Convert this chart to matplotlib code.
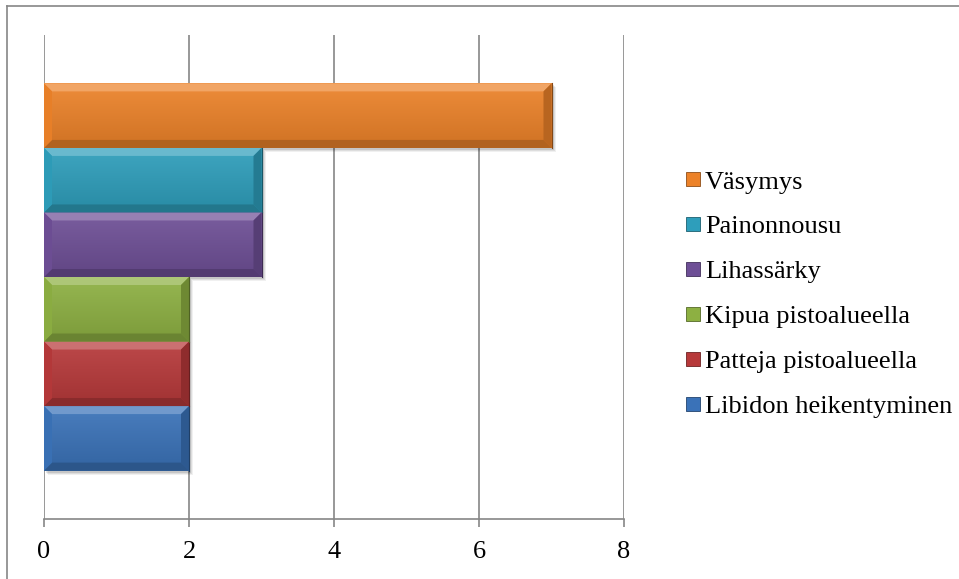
import matplotlib
matplotlib.use("Agg")
import matplotlib.pyplot as plt
import numpy as np
from matplotlib.lines import Line2D
from matplotlib.colors import to_rgb

plt.rcParams['font.family'] = ['Liberation Serif', 'DejaVu Serif']

# data (bottom to top)
labels = ["Libidon heikentyminen", "Patteja pistoalueella", "Kipua pistoalueella",
          "Lihassärky", "Painonnousu", "Väsymys"]
values = [2, 2, 2, 3, 3, 7]
colors = ["#3A72B8", "#B7393A", "#8DB042", "#6E4F96", "#2E9EBB", "#EC8229"]
xticks = [0, 2, 4, 6, 8]

W, H = 959, 579
fig = plt.figure(figsize=(W / 100, H / 100), dpi=100)
ax = fig.add_axes([44 / W, 60 / H, 580 / W, 484 / H])

gap = 0.75
ax.set_xlim(0, 8)
ax.set_ylim(0, len(values) + 2 * gap)

# pixel sizes in data units
px_x = 8 / 580
px_y = (len(values) + 2 * gap) / 484
bev_x = 8 * px_x
bev_y = 8 * px_y


def shade(c, f):
    c = np.array(to_rgb(c))
    if f >= 0:
        return tuple(c + (1 - c) * f)
    return tuple(c * (1 + f))


for i, (v, c) in enumerate(zip(values, colors)):
    y0 = gap + i
    y1 = y0 + 1
    # soft shadow
    for k, a in zip([4, 3, 2], [0.06, 0.08, 0.10]):
        ax.fill([v, v + k * px_x, v + k * px_x, 0 + k * px_x, 0 + k * px_x, v],
                [y1 - k * px_y, y1 - k * px_y, y0 - k * px_y, y0 - k * px_y, y0, y0],
                color="black", alpha=a, lw=0, zorder=2)
    # vertical gradient body
    t = np.linspace(0, 1, 64)[:, None]
    top = np.array(shade(c, 0.08))
    bot = np.array(shade(c, -0.12))
    grad = (bot[None, :] * (1 - t) + top[None, :] * t)[:, None, :]
    ax.imshow(grad, extent=(0, v, y0, y1), origin="lower", aspect="auto",
              interpolation="bilinear", zorder=3)
    # bevel faces
    ax.fill([0, v, v - bev_x, bev_x], [y1, y1, y1 - bev_y, y1 - bev_y],
            color=shade(c, 0.28), lw=0, zorder=4)
    ax.fill([0, v, v - bev_x, bev_x], [y0, y0, y0 + bev_y, y0 + bev_y],
            color=shade(c, -0.25), lw=0, zorder=4)
    ax.fill([0, bev_x, bev_x, 0], [y0, y0 + bev_y, y1 - bev_y, y1],
            color=shade(c, -0.02), lw=0, zorder=4)
    ax.fill([v, v - bev_x, v - bev_x, v], [y0, y0 + bev_y, y1 - bev_y, y1],
            color=shade(c, -0.22), lw=0, zorder=4)
    ax.plot([v, v], [y1, y0], color=shade(c, -0.45), lw=0.8, zorder=5)

grid_c = "#868686"
ax.set_xticks(xticks)
ax.set_xticklabels([str(x) for x in xticks], fontsize=19)
ax.set_yticks([])
ax.grid(axis="x", color=grid_c, lw=1.2, zorder=0)
ax.set_axisbelow(True)
for s in ["top", "right", "left"]:
    ax.spines[s].set_visible(False)
ax.spines["bottom"].set_color(grid_c)
ax.spines["bottom"].set_linewidth(1.2)
ax.tick_params(axis="x", length=6, width=1.2, color=grid_c, pad=10)

# outer frame (top and left only)
fig.add_artist(Line2D([7 / W, 1], [1 - 6 / H, 1 - 6 / H], color=grid_c, lw=1.2))
fig.add_artist(Line2D([7 / W, 7 / W], [0, 1 - 6 / H], color=grid_c, lw=1.2))

handles = [Line2D([0], [0], marker="s", ls="", markersize=9.5, markerfacecolor=c,
                  markeredgecolor=shade(c, -0.4), markeredgewidth=0.6, label=l)
           for l, c in zip(labels[::-1], colors[::-1])]
fig.legend(handles=handles, loc="center left", bbox_to_anchor=(672 / W, 1 - 294 / H),
           frameon=False, fontsize=19, handlelength=0.6, handletextpad=0.15,
           labelspacing=0.81, borderpad=0)

fig.savefig("out.png", dpi=100)
